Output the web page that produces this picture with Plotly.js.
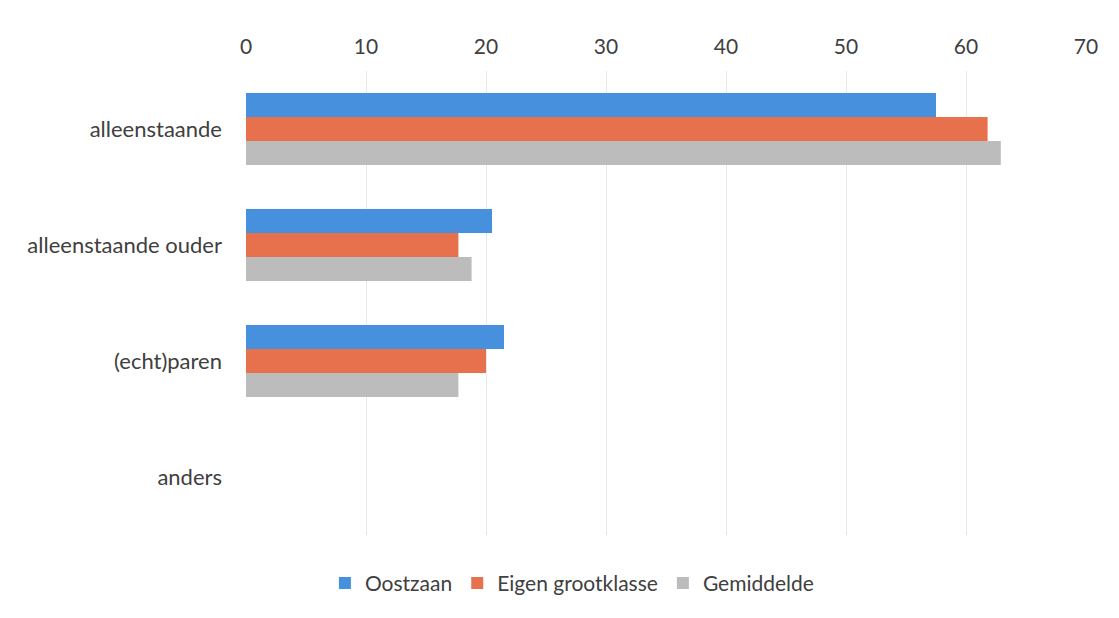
<!DOCTYPE html>
<html>
<head>
<meta charset="utf-8">
<script src="https://cdn.plot.ly/plotly-3.0.1.min.js"></script>
<style>html,body{margin:0;padding:0;background:#fff;}#chart{width:1119px;height:618px;}</style>
</head>
<body>
<div id="chart"></div>
<script>
const categories = ["alleenstaande", "alleenstaande ouder", "(echt)paren", "anders"];
const seriesNames = ["Oostzaan", "Eigen grootklasse", "Gemiddelde"];
const oostzaan = [57.5, 20.5, 21.5, 0];
const eigenGrootklasse = [61.8, 17.7, 20.0, 0];
const gemiddelde = [62.9, 18.8, 17.7, 0];
const colors = ["#4690dd", "#e8714d", "#bcbcbc"];
const tickVals = [0, 10, 20, 30, 40, 50, 60, 70];

const values = [oostzaan, eigenGrootklasse, gemiddelde];
const traces = values.map((v, i) => ({
  type: "bar",
  orientation: "h",
  name: seriesNames[i],
  x: v,
  y: categories,
  marker: {color: colors[i]},
  hoverinfo: "x+name"
}));

const layout = {
  width: 1119,
  height: 618,
  margin: {l: 246, r: 33, t: 71, b: 83},
  paper_bgcolor: "#ffffff",
  plot_bgcolor: "#ffffff",
  font: {family: "Lato, 'Open Sans', sans-serif", size: 21, color: "#404040"},
  barmode: "group",
  bargap: 0.38,
  bargroupgap: 0,
  showlegend: true,
  legend: {
    orientation: "h",
    x: 0.388, xanchor: "center",
    y: -0.06, yanchor: "top",
    font: {size: 21, color: "#404040"},
    itemwidth: 30,
    traceorder: "normal"
  },
  xaxis: {
    side: "top",
    range: [0, 70],
    tickvals: tickVals,
    ticktext: tickVals.map(String),
    showgrid: true,
    gridcolor: "#e8e8e8",
    gridwidth: 1,
    zeroline: false,
    showline: false,
    ticks: "",
    ticklabelstandoff: 12,
    tickfont: {size: 21, color: "#404040"},
    fixedrange: true
  },
  yaxis: {
    autorange: "reversed",
    type: "category",
    showgrid: false,
    zeroline: false,
    showline: false,
    ticks: "",
    ticklabelstandoff: 23,
    tickfont: {size: 22, color: "#404040"},
    fixedrange: true
  }
};

Plotly.newPlot("chart", traces, layout, {displayModeBar: false, staticPlot: true});
</script>
</body>
</html>
